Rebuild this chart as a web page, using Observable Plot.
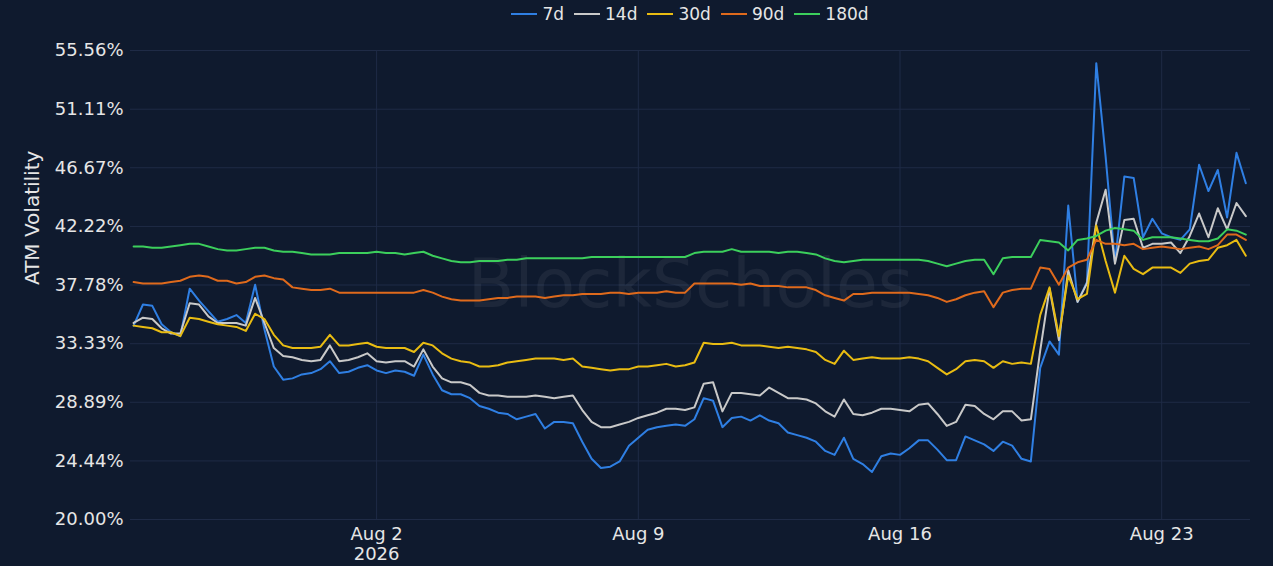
<!DOCTYPE html>
<html><head><meta charset="utf-8">
<script src="https://cdn.jsdelivr.net/npm/d3@7"></script>
<script src="https://cdn.jsdelivr.net/npm/@observablehq/plot@0.6"></script>
<style>
html,body{margin:0;padding:0;background:#0f1a2e;}
#legend{box-sizing:border-box;width:1273px;height:28px;padding-left:107px;display:flex;justify-content:center;align-items:center;gap:10px;font-family:"DejaVu Sans";font-size:17px;color:#e6e6e6;}
.item{display:flex;align-items:center;}
.sw{display:inline-block;width:26px;height:2.5px;margin-right:5px;}
</style>
</head><body>
<div id="legend"></div>
<div id="chart"></div>
<script>
const seriesNames = ["7d", "14d", "30d", "90d", "180d"];
const seriesColors = ["#2f7fe3", "#c9c9c9", "#e9bc12", "#df6a1c", "#3ccf5c"];
const yTicks = [20.00, 24.44, 28.89, 33.33, 37.78, 42.22, 46.67, 51.11, 55.56];
const xTickDates = ["2026-08-02", "2026-08-09", "2026-08-16", "2026-08-23"];
const xTickLabels = ["Aug 2\n2026", "Aug 9", "Aug 16", "Aug 23"];
const startTime = "2026-07-26T12:00:00Z"; // first sample, one sample every 6 hours
const stepHours = 6;

const v7 = [34.7,36.3,36.2,34.8,34.2,33.9,37.5,36.6,35.8,35.0,
35.2,35.5,34.9,37.8,34.4,31.6,30.6,30.7,31.0,31.1,
31.4,32.0,31.1,31.2,31.5,31.7,31.3,31.1,31.3,31.2,
30.9,32.5,31.0,29.8,29.5,29.5,29.2,28.6,28.4,28.1,
28.0,27.6,27.8,28.0,26.9,27.4,27.4,27.3,25.9,24.6,
23.9,24.0,24.4,25.6,26.2,26.8,27.0,27.1,27.2,27.1,
27.6,29.2,29.0,27.0,27.7,27.8,27.5,27.9,27.5,27.3,
26.6,26.4,26.2,25.9,25.2,24.9,26.2,24.6,24.2,23.6,
24.8,25.0,24.9,25.4,26.0,26.0,25.3,24.5,24.5,26.3,
26.0,25.7,25.2,25.9,25.6,24.6,24.4,31.5,33.5,32.5,
43.8,36.5,38.0,54.6,47.5,39.5,46.0,45.9,41.4,42.8,
41.7,41.4,41.2,42.0,46.9,44.9,46.5,42.9,47.8,45.5];

const v14 = [34.9,35.3,35.2,34.5,34.1,34.1,36.4,36.3,35.4,34.9,
34.9,34.9,34.7,36.8,34.9,33.0,32.4,32.3,32.1,32.0,
32.1,33.2,32.0,32.1,32.3,32.6,32.0,31.9,32.0,32.0,
31.6,32.9,31.6,30.7,30.4,30.4,30.2,29.6,29.4,29.4,
29.3,29.3,29.3,29.4,29.3,29.2,29.3,29.4,28.3,27.4,
27.0,27.0,27.2,27.4,27.7,27.9,28.1,28.4,28.4,28.3,
28.5,30.3,30.4,28.2,29.6,29.6,29.5,29.4,30.0,29.6,
29.2,29.2,29.1,28.8,28.2,27.8,29.1,28.0,27.9,28.1,
28.4,28.4,28.3,28.2,28.7,28.8,28.0,27.1,27.4,28.7,
28.6,28.0,27.6,28.2,28.2,27.5,27.6,32.8,37.5,33.6,
38.9,36.5,37.9,42.5,45.0,39.4,42.7,42.8,40.6,40.9,
40.9,41.0,40.2,41.5,43.2,41.4,43.6,42.0,44.0,43.0];

const v30 = [34.7,34.6,34.5,34.2,34.2,33.9,35.3,35.2,35.0,34.8,
34.7,34.6,34.3,35.6,35.2,34.0,33.2,33.0,33.0,33.0,
33.1,34.0,33.2,33.2,33.3,33.4,33.1,33.0,33.0,33.0,
32.7,33.4,33.2,32.6,32.2,32.0,31.9,31.6,31.6,31.7,
31.9,32.0,32.1,32.2,32.2,32.2,32.1,32.2,31.6,31.5,
31.4,31.3,31.4,31.4,31.6,31.6,31.7,31.8,31.6,31.7,
31.9,33.4,33.3,33.3,33.4,33.2,33.2,33.2,33.1,33.0,
33.1,33.0,32.9,32.7,32.1,31.8,32.8,32.1,32.2,32.3,
32.2,32.2,32.2,32.3,32.2,32.0,31.5,31.0,31.4,32.0,
32.1,32.0,31.5,32.0,31.8,31.9,31.8,35.5,37.6,33.9,
38.5,36.7,37.1,42.3,39.6,37.2,40.0,39.0,38.6,39.1,
39.1,39.1,38.7,39.4,39.6,39.7,40.6,40.8,41.2,40.0];

const v90 = [38.0,37.9,37.9,37.9,38.0,38.1,38.4,38.5,38.4,38.1,
38.1,37.9,38.0,38.4,38.5,38.3,38.2,37.6,37.5,37.4,
37.4,37.5,37.2,37.2,37.2,37.2,37.2,37.2,37.2,37.2,
37.2,37.4,37.2,36.9,36.7,36.6,36.6,36.6,36.7,36.8,
36.8,36.9,36.9,36.9,36.8,36.9,37.0,37.0,37.1,37.1,
37.1,37.2,37.2,37.1,37.2,37.2,37.2,37.3,37.2,37.2,
37.9,37.9,37.9,37.9,37.9,37.8,37.9,37.7,37.7,37.7,
37.6,37.6,37.6,37.4,37.0,36.8,36.6,37.1,37.1,37.2,
37.2,37.2,37.2,37.2,37.1,37.0,36.8,36.5,36.7,37.0,
37.2,37.3,36.1,37.2,37.4,37.5,37.5,39.1,39.0,37.8,
39.1,39.5,39.7,41.2,40.9,40.9,40.8,40.9,40.5,40.6,
40.7,40.6,40.5,40.6,40.7,40.5,40.8,41.6,41.6,41.2];

const v180 = [40.7,40.7,40.6,40.6,40.7,40.8,40.9,40.9,40.7,40.5,
40.4,40.4,40.5,40.6,40.6,40.4,40.3,40.3,40.2,40.1,
40.1,40.1,40.2,40.2,40.2,40.2,40.3,40.2,40.2,40.1,
40.2,40.3,40.0,39.8,39.6,39.5,39.5,39.6,39.6,39.6,
39.7,39.7,39.8,39.8,39.8,39.8,39.8,39.8,39.8,39.9,
39.9,39.9,39.9,39.9,39.9,39.9,39.9,39.9,39.9,39.9,
40.2,40.3,40.3,40.3,40.5,40.3,40.3,40.3,40.3,40.2,
40.3,40.3,40.2,40.1,39.8,39.6,39.5,39.6,39.7,39.7,
39.7,39.7,39.7,39.7,39.7,39.6,39.4,39.2,39.4,39.6,
39.7,39.7,38.6,39.8,39.9,39.9,39.9,41.2,41.1,41.0,
40.4,41.2,41.3,41.5,41.9,42.1,42.0,41.9,41.2,41.4,
41.4,41.4,41.3,41.2,41.1,41.1,41.3,42.0,41.9,41.6];

const allValues = [v7, v14, v30, v90, v180];
const t0 = new Date(startTime).getTime();
const rows = [];
allValues.forEach((vals, s) => {
  vals.forEach((v, i) => rows.push({series: seriesNames[s], date: new Date(t0 + i * stepHours * 3600e3), value: v}));
});
const xTicks = xTickDates.map(d => new Date(d + "T00:00:00Z"));
const labelOf = new Map(xTicks.map((d, i) => [+d, xTickLabels[i]]));

// legend
const legend = document.getElementById("legend");
seriesNames.forEach((n, i) => {
  const it = document.createElement("span");
  it.className = "item";
  it.innerHTML = `<span class="sw" style="background:${seriesColors[i]}"></span>${n}`;
  legend.appendChild(it);
});

const grid = "#1f2b46";
const chart = Plot.plot({
  width: 1273,
  height: 538,
  marginTop: 22,
  marginBottom: 47,
  marginLeft: 130,
  marginRight: 23,
  style: {background: "#0f1a2e", color: "#e6e6e6", fontFamily: "DejaVu Sans", fontSize: "18px"},
  x: {type: "utc", domain: [new Date("2026-07-26T10:00:00Z"), new Date("2026-08-25T09:00:00Z")]},
  y: {domain: [20, 55.56]},
  color: {domain: seriesNames, range: seriesColors},
  marks: [
    Plot.gridY(yTicks, {stroke: grid, strokeOpacity: 1}),
    Plot.gridX(xTicks, {stroke: grid, strokeOpacity: 1}),
    Plot.text(["BlockScholes"], {text: d => d, frameAnchor: "middle", fontSize: 68, fill: "#ffffff", fillOpacity: 0.06}),
    Plot.axisY(yTicks, {tickSize: 0, tickPadding: 7, tickFormat: d => d.toFixed(2) + "%", label: null, fontSize: 18}),
    Plot.axisX(xTicks, {tickSize: 0, tickPadding: 6, tickFormat: d => labelOf.get(+d), label: null, fontSize: 18, lineHeight: 1.12}),
    Plot.text(["ATM Volatility"], {text: d => d, frameAnchor: "left", dx: -98, rotate: -90, fontSize: 20, fill: "#e6e6e6"}),
    Plot.lineY(rows, {x: "date", y: "value", z: "series", stroke: "series", strokeWidth: 2})
  ]
});
document.getElementById("chart").appendChild(chart);
</script>
</body></html>
